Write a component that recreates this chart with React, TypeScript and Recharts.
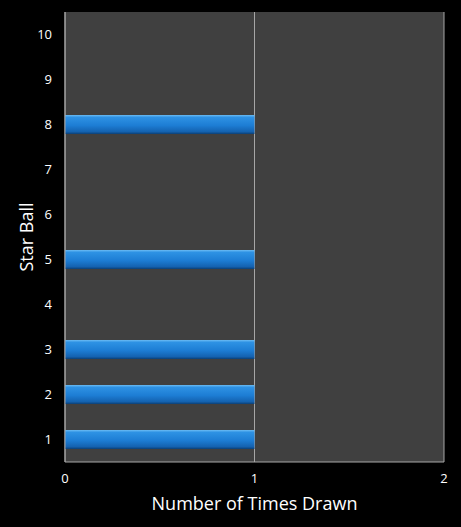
import { BarChart, Bar, XAxis, YAxis, CartesianGrid } from 'recharts';

const starBalls = ['1', '2', '3', '4', '5', '6', '7', '8', '9', '10'];
const timesDrawn = [1, 1, 1, 0, 1, 0, 0, 1, 0, 0];
const xTicks = [0, 1, 2];

const chartData = starBalls.map((ball, i) => ({ ball, drawn: timesDrawn[i] }));

const FONT = '"Open Sans", "DejaVu Sans", sans-serif';

const YTitle = ({ viewBox }: any) => {
  const x = viewBox.x + 26;
  const y = viewBox.y + viewBox.height / 2;
  return (
    <text x={x} y={y} fill="#ffffff" fontSize={18} fontFamily={FONT} textAnchor="middle"
      dominantBaseline="central" transform={`rotate(-90, ${x}, ${y})`}>
      Star Ball
    </text>
  );
};

const XTitle = ({ viewBox }: any) => (
  <text x={viewBox.x + viewBox.width / 2} y={viewBox.y + 48} fill="#ffffff" fontSize={18}
    fontFamily={FONT} textAnchor="middle">
    Number of Times Drawn
  </text>
);

const App = () => {
  return (
    <div style={{ position: 'absolute', left: 0, top: 0, width: 461, height: 527, background: '#000000' }}>
      <BarChart
        width={461}
        height={527}
        data={chartData}
        layout="vertical"
        margin={{ top: 12, right: 17, left: 0, bottom: 0 }}
      >
        <defs>
          <linearGradient id="barFill" x1="0" y1="0" x2="0" y2="1">
            <stop offset="0%" stopColor="#6cbcf4" />
            <stop offset="12%" stopColor="#2e92e4" />
            <stop offset="55%" stopColor="#1d7dd4" />
            <stop offset="88%" stopColor="#1462b0" />
            <stop offset="100%" stopColor="#0b3f75" />
          </linearGradient>
        </defs>
        <CartesianGrid horizontal={false} fill="#404040" stroke="#a6a6a6" fillOpacity={1} />
        <XAxis
          type="number"
          domain={[0, 2]}
          ticks={xTicks}
          height={65}
          axisLine={{ stroke: '#a6a6a6' }}
          tickLine={false}
          tickMargin={6}
          tick={{ fill: '#ffffff', fontSize: 13, fontFamily: FONT }}
          label={<XTitle />}
        />
        <YAxis
          type="category"
          dataKey="ball"
          reversed
          width={65}
          axisLine={{ stroke: '#a6a6a6' }}
          tickLine={false}
          tickMargin={7}
          tick={{ fill: '#ffffff', fontSize: 13, fontFamily: FONT }}
          label={<YTitle />}
        />
        <Bar dataKey="drawn" fill="url(#barFill)" barSize={19} isAnimationActive={false} />
      </BarChart>
    </div>
  );
};

export default App;
